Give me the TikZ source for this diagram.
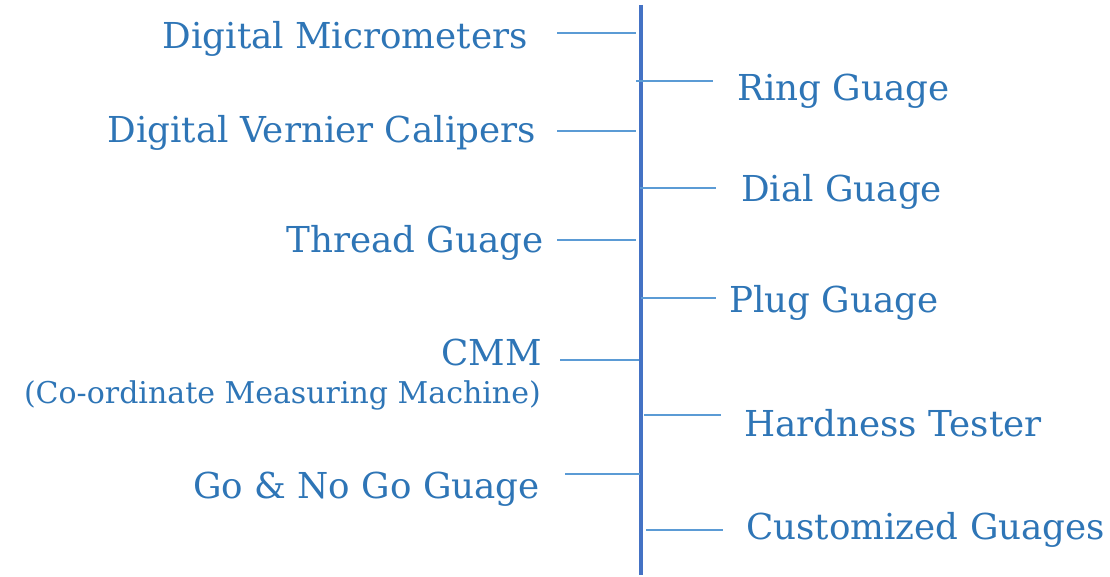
\documentclass[tikz,border=0pt]{standalone}
\usepackage{fontspec}
\setmainfont{DejaVu Serif}
\definecolor{txtblue}{HTML}{2E75B6}
\definecolor{spineblue}{HTML}{4472C4}
\definecolor{linkblue}{HTML}{5B9BD5}
\begin{document}
\begin{tikzpicture}[x=1pt,y=-1pt,
  lbl/.style={inner sep=0pt,text=txtblue,font=\fontsize{35.7}{40}\selectfont},
  sublbl/.style={inner sep=0pt,text=txtblue,font=\fontsize{30}{34}\selectfont},
  lft/.style={lbl,anchor=base east},
  rgt/.style={lbl,anchor=base west},
  link/.style={draw=linkblue,line width=1.5pt},
  spine/.style={draw=spineblue,line width=4pt}]
\useasboundingbox (0,0) rectangle (1110,577);
% spine
\coordinate (top) at (641,5);
\coordinate (bot) at (641,575);
\draw[spine] (top) -- (bot);
% left labels
\node[lft] (dm) at (528,49) {Digital Micrometers};
\node[lft] (dvc) at (536,143) {Digital Vernier Calipers};
\node[lft] (tg) at (544,253) {Thread Guage};
\node[lft] (cmm) at (542,365) {CMM};
\node[sublbl,anchor=base east] (cmms) at (541,403) {(Co-ordinate Measuring Machine)};
\node[lft] (gng) at (540,498) {Go \& No Go Guage};
% right labels
\node[rgt] (rg) at (737,101) {Ring Guage};
\node[rgt] (dg) at (741,202) {Dial Guage};
\node[rgt] (pg) at (729,312) {Plug Guage};
\node[rgt] (ht) at (744,436) {Hardness Tester};
\node[rgt] (cg) at (746,539) {Customized Guages};
% connector ends
\coordinate (a1) at (557,33);  \coordinate (b1) at (636,33);
\coordinate (a2) at (636,81);  \coordinate (b2) at (713,81);
\coordinate (a3) at (557,131); \coordinate (b3) at (636,131);
\coordinate (a4) at (640,188); \coordinate (b4) at (716,188);
\coordinate (a5) at (557,240); \coordinate (b5) at (636,240);
\coordinate (a6) at (641,298); \coordinate (b6) at (716,298);
\coordinate (a7) at (560,360); \coordinate (b7) at (639,360);
\coordinate (a8) at (644,415); \coordinate (b8) at (721,415);
\coordinate (a9) at (565,474); \coordinate (b9) at (640,474);
\coordinate (a10) at (646,530); \coordinate (b10) at (723,530);
\foreach \i in {1,...,10} \draw[link] (a\i) -- (b\i);
\end{tikzpicture}
\end{document}
